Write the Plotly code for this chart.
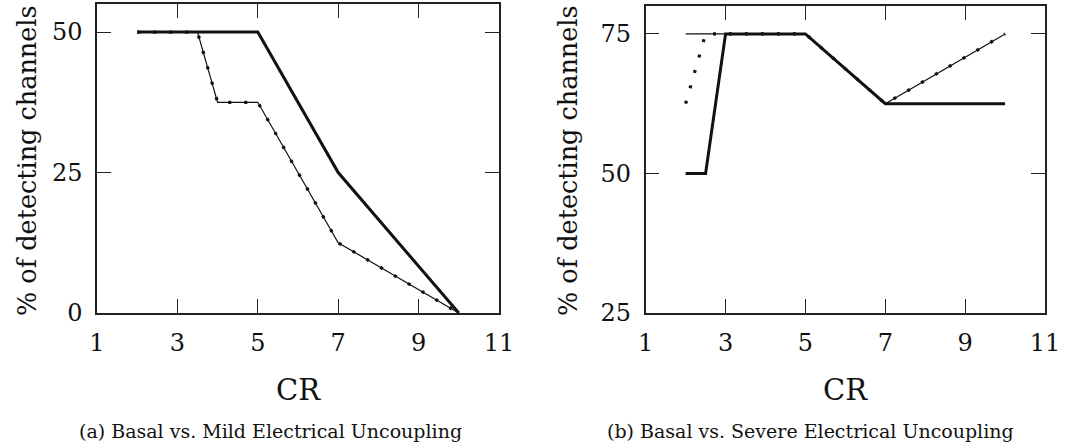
import plotly.graph_objects as go

# ---- data: panel (a) Basal vs. Mild Electrical Uncoupling ----
cr_a_thick = [2, 5, 7, 10]
pct_a_thick = [50, 50, 25, 0]
cr_a_thin = [2, 3.5, 4, 5, 7, 10]
pct_a_thin = [50, 50, 37.5, 37.5, 12.5, 0]
cr_a_dot = [2, 3.5, 4, 5, 7, 10]
pct_a_dot = [50, 50, 37.5, 37.5, 12.5, 0]

# ---- data: panel (b) Basal vs. Severe Electrical Uncoupling ----
cr_b_thick = [2, 2.5, 3, 5, 7, 10]
pct_b_thick = [50, 50, 75, 75, 62.5, 62.5]
cr_b_thin = [2, 5, 7, 10]
pct_b_thin = [75, 75, 62.5, 75]
cr_b_dot = [2, 2.5, 5, 7, 10]
pct_b_dot = [62.5, 75, 75, 62.5, 75]

x_ticks = [1, 3, 5, 7, 9, 11]
y_ticks_a = [0, 25, 50]
y_ticks_b = [25, 50, 75]

FONT = "DejaVu Serif"
INK = "#111111"

fig = go.Figure()

def add_panel(xs_thin, ys_thin, xs_dot, ys_dot, xs_thick, ys_thick, xa, ya):
    fig.add_trace(go.Scatter(x=xs_thin, y=ys_thin, mode="lines",
                             line=dict(color=INK, width=1.2), xaxis=xa, yaxis=ya,
                             showlegend=False, hoverinfo="skip"))
    fig.add_trace(go.Scatter(x=xs_dot, y=ys_dot, mode="lines",
                             line=dict(color=INK, width=3.2, dash="3px,13px"), xaxis=xa, yaxis=ya,
                             showlegend=False, hoverinfo="skip"))
    fig.add_trace(go.Scatter(x=xs_thick, y=ys_thick, mode="lines",
                             line=dict(color=INK, width=3), xaxis=xa, yaxis=ya,
                             showlegend=False, hoverinfo="skip"))

add_panel(cr_a_thin, pct_a_thin, cr_a_dot, pct_a_dot, cr_a_thick, pct_a_thick, "x", "y")
add_panel(cr_b_thin, pct_b_thin, cr_b_dot, pct_b_dot, cr_b_thick, pct_b_thick, "x2", "y2")

axis_common = dict(showline=True, linecolor="#222222", linewidth=1.5, mirror="ticks",
                   ticks="inside", ticklen=14, tickwidth=1.2, tickcolor="#222222",
                   showgrid=False, zeroline=False, automargin=False,
                   tickfont=dict(family=FONT, size=24, color=INK))

W, H = 1068, 446
fig.update_layout(
    template="none",
    width=W, height=H, margin=dict(l=0, r=0, t=0, b=0, pad=0),
    paper_bgcolor="white", plot_bgcolor="white",
    xaxis=dict(domain=[97 / W, 499 / W], range=[1, 11], tickvals=x_ticks,
               ticklabelstandoff=7, anchor="y", **axis_common),
    yaxis=dict(domain=[133 / H, 442 / H], range=[0, 55], tickvals=y_ticks_a,
               ticklabelstandoff=8, anchor="x", **axis_common),
    xaxis2=dict(domain=[645.7 / W, 1045 / W], range=[1, 11], tickvals=x_ticks,
                ticklabelstandoff=7, anchor="y2", **axis_common),
    yaxis2=dict(domain=[133 / H, 440 / H], range=[25, 80], tickvals=y_ticks_b,
                ticklabelstandoff=8, anchor="x2", **axis_common),
)

def ann(text, x, y_px, size, angle=0):
    fig.add_annotation(text=text, x=x / W, y=1 - y_px / H, xref="paper", yref="paper",
                       showarrow=False, xanchor="center", yanchor="middle",
                       textangle=angle, font=dict(family=FONT, size=size, color=INK))

ann("% of detecting channels", 27, 161, 25.5, -90)
ann("% of detecting channels", 568, 161, 25.5, -90)
ann("CR", 298, 390, 29)
ann("CR", 845, 390, 29)
ann("(a) Basal vs. Mild Electrical Uncoupling", 270, 431, 19)
ann("(b) Basal vs. Severe Electrical Uncoupling", 810, 431, 19)

fig.write_html("out.html")
